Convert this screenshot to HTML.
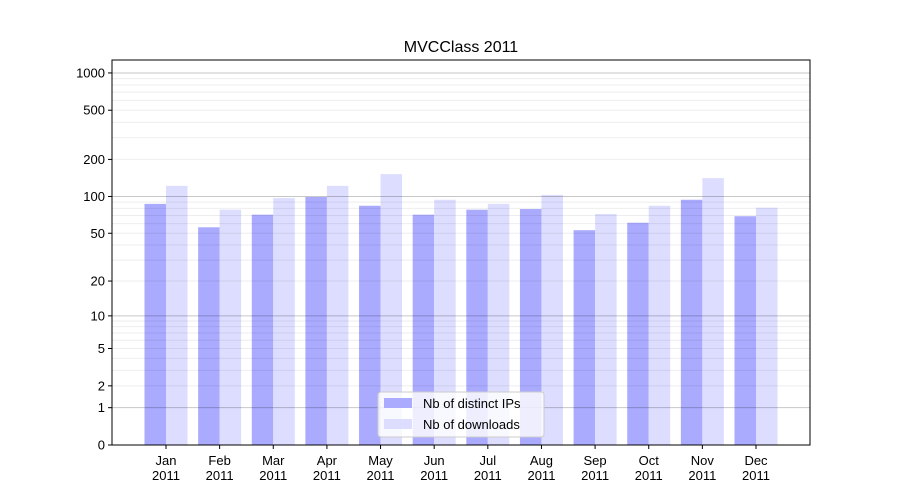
<!DOCTYPE html>
<html><head><meta charset="utf-8"><style>
body{margin:0;background:#fff;}
svg{display:block;font-family:"Liberation Sans","DejaVu Sans",sans-serif;}
</style></head><body>
<svg id="chart" width="900" height="500">
<rect x="0" y="0" width="900" height="500" fill="#fff"/>
<text x="461" y="52" font-size="16" text-anchor="middle">MVCClass 2011</text>
<g id="bars"></g><g id="grid"></g><g id="axes"></g>
</svg>
<script>
const months=["Jan","Feb","Mar","Apr","May","Jun","Jul","Aug","Sep","Oct","Nov","Dec"];
const ips=[87,56,71,99,84,71,78,79,53,61,94,69];
const downloads=[122,78,97,122,152,94,87,103,72,84,141,81];
const yTicks=[0,1,2,5,10,20,50,100,200,500,1000];
const NS="http://www.w3.org/2000/svg";
const L=112,R=810,T=60,B=445,K=124;
function y(v){return B-K*Math.log10(1+v);}
function xc(i){return 166+i*(590/11);}
function mk(p,tag,a){const e=document.createElementNS(NS,tag);for(const k in a)e.setAttribute(k,a[k]);document.getElementById(p).appendChild(e);return e;}
// grid
for(let d=1;d<=1000;d*=10){for(let m=1;m<10;m++){const v=d*m;if(y(v)<T)continue;
 const g=mk('grid','line',{x1:L,x2:R,y1:y(v),y2:y(v),stroke:m==1?'rgba(0,0,0,0.22)':'rgba(0,0,0,0.07)','stroke-width':1});
 
 }}
// bars
const bw=21.5;
months.forEach((m,i)=>{
 const a=mk('bars','rect',{x:xc(i)-bw,y:y(ips[i]),width:bw,height:B-y(ips[i]),fill:'#aaaaff'});
 
 
 const b=mk('bars','rect',{x:xc(i),y:y(downloads[i]),width:bw,height:B-y(downloads[i]),fill:'#ddddff'});
 
 
 mk('axes','line',{x1:xc(i),x2:xc(i),y1:B,y2:B+4,stroke:'#000'});
 const t=mk('axes','text',{x:xc(i),y:B+20,'font-size':13,'text-anchor':'middle'});t.textContent=m;
 
 
 const t2=mk('axes','text',{x:xc(i),y:B+35,'font-size':13,'text-anchor':'middle'});t2.textContent='2011';
 
 
});
yTicks.forEach(v=>{
 mk('axes','line',{x1:L-4,x2:L,y1:y(v),y2:y(v),stroke:'#000'});
 const t=mk('axes','text',{x:L-7,y:y(v)+4.5,'font-size':13,'text-anchor':'end'});t.textContent=v;
 
 
});
const fr=mk('axes','rect',{x:L,y:T,width:R-L,height:B-T,fill:'none',stroke:'#000','stroke-width':1});


// legend
const lg=mk('axes','rect',{x:378,y:392,width:166,height:45,fill:'#fff','fill-opacity':0.8,stroke:'#ccc',rx:3});


[['Nb of distinct IPs','#aaaaff',398],['Nb of downloads','#ddddff',419]].forEach(([s,c,yy])=>{
 const r=mk('axes','rect',{x:384,y:yy,width:28,height:10,fill:c});
 
 
 const t=mk('axes','text',{x:423,y:yy+10,'font-size':13});t.textContent=s;
 
 
});
</script>
</body></html>
